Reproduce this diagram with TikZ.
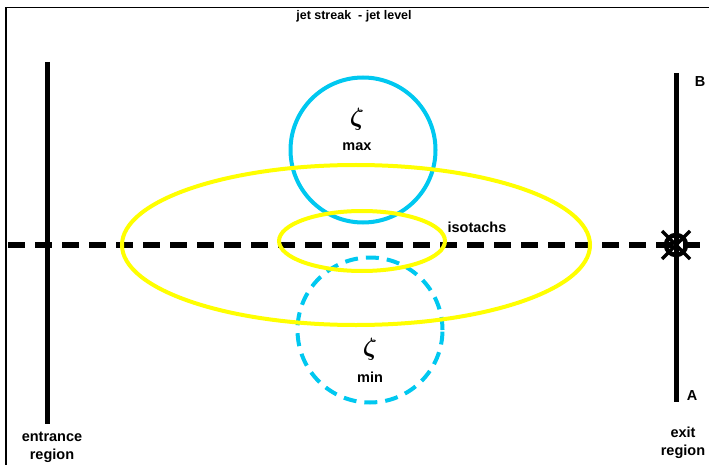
\documentclass[tikz,border=0pt]{standalone}
\usepackage{fontspec}
\setmainfont{Liberation Sans}
\begin{document}
\begin{tikzpicture}[x=1pt,y=-1pt,
  lbl/.style={font=\fontsize{14.5}{18}\selectfont\bfseries,inner sep=0pt,align=center},
  greek/.style={font=\fontsize{24}{26}\selectfont\rmfamily\boldmath,inner sep=0pt},
  blk/.style={line width=5pt,black},
  cyanline/.style={draw={rgb,255:red,0;green,200;blue,240},line width=4pt},
  yel/.style={draw={rgb,255:red,255;green,255;blue,0},line width=4pt}]
\useasboundingbox (0,0) rectangle (709,465);
\begin{scope}
\clip (0,0) rectangle (709,465);
\draw[line width=1.6pt] (6,7.5) rectangle (760,520);
\end{scope}
% title
\node[lbl,font=\fontsize{12.5}{14}\selectfont\bfseries] (title) at (354,16) {jet streak~ - jet level};
% vertical lines
\coordinate (L1) at (47,62); \coordinate (L2) at (47,424);
\draw[blk] (L1) -- (L2);
\coordinate (R1) at (676,73); \coordinate (R2) at (676,402);
\draw[blk] (R1) -- (R2);
% dashed jet axis
\coordinate (D1) at (8,245); \coordinate (D2) at (709,245);
\draw[line width=5.5pt,dash pattern=on 17pt off 10pt] (D1) -- (D2);
% cyan circles
\node[cyanline,circle,minimum size=145pt,inner sep=0pt] (cmax) at (363,150) {};
\node[cyanline,circle,minimum size=145pt,inner sep=0pt,dash pattern=on 13pt off 8pt] (cmin) at (370,330) {};
% yellow ellipses
\draw[yel] (356,245) ellipse [x radius=234, y radius=80];
\draw[yel] (362,241) ellipse [x radius=83, y radius=30];
% labels
\node[greek] (z1) at (357,119) {$\zeta$};
\node[lbl] (mx) at (357,147) {max};
\node[greek] (z2) at (370,349) {$\zeta$};
\node[lbl] (mn) at (370,377) {min};
\node[lbl] (iso) at (477,227) {isotachs};
\node[lbl] (B) at (700,82) {B};
\node[lbl] (A) at (692,396) {A};
\node[lbl] (ent) at (52,447) {entrance\\region};
\node[lbl] (ex) at (683,443) {exit\\region};
% exit symbol
\node[circle,draw,line width=4.5pt,minimum size=20pt,inner sep=0pt] (sym) at (676,245) {};
\draw[line width=3.5pt] ([shift={(-14,-14)}]sym.center) -- ([shift={(14,14)}]sym.center);
\draw[line width=3.5pt] ([shift={(-14,14)}]sym.center) -- ([shift={(14,-14)}]sym.center);
\end{tikzpicture}
\end{document}
